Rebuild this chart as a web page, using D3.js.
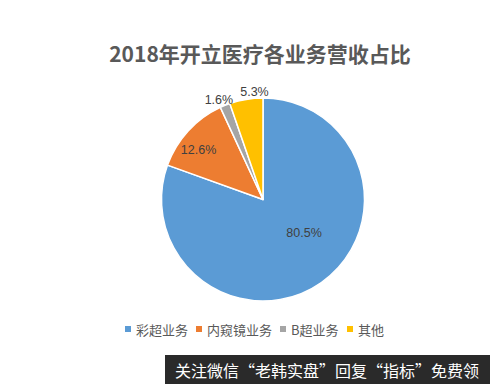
<!DOCTYPE html>
<html>
<head>
<meta charset="utf-8">
<script src="https://cdn.jsdelivr.net/npm/d3@7/dist/d3.min.js"></script>
<style>
  html, body { margin: 0; padding: 0; background: #fff; }
  svg { display: block; }
</style>
</head>
<body>
<script>
// Revenue share by business line, 2018
const categories = ["彩超业务", "内窥镜业务", "B超业务", "其他"];
const shares = [80.5, 12.6, 1.6, 5.3];
const colors = ["#5B9BD5", "#ED7D31", "#A5A5A5", "#FFC000"];
const title = "2018年开立医疗各业务营收占比";
const footer = "关注微信“老韩实盘”回复“指标”免费领";

// label placement: radius as a fraction of the pie radius, angle nudge in degrees
const labelRadius = [0.52, 0.80, 1.07, 1.06];
const labelNudge = [-16, -5, -2, 5];

const W = 490, H = 384;
const cx = 263, cy = 199.5, R = 101.5;

const svg = d3.select("body").append("svg")
  .attr("width", W).attr("height", H);

svg.append("rect").attr("width", W).attr("height", H).attr("fill", "#fff");

// title
svg.append("text")
  .attr("x", 260).attr("y", 62)
  .attr("text-anchor", "middle")
  .attr("font-family", "'Noto Sans CJK SC', sans-serif")
  .attr("font-weight", "bold")
  .attr("font-size", 21)
  .attr("fill", "#595959")
  .text(title);

const pie = d3.pie().sort(null).value(d => d);
const arcs = pie(shares);
const arc = d3.arc().innerRadius(0).outerRadius(R);

const g = svg.append("g").attr("transform", `translate(${cx},${cy})`);

g.selectAll("path.slice")
  .data(arcs)
  .join("path")
  .attr("class", "slice")
  .attr("d", arc)
  .attr("fill", (d, i) => colors[i])
  .attr("stroke", "#fff")
  .attr("stroke-width", 1.5)
  .attr("stroke-linejoin", "round");

// value labels
g.selectAll("text.val")
  .data(arcs)
  .join("text")
  .attr("class", "val")
  .attr("transform", (d, i) => {
    const a = (d.startAngle + d.endAngle) / 2 + labelNudge[i] * Math.PI / 180;
    const r = R * labelRadius[i];
    return `translate(${r * Math.sin(a)},${-r * Math.cos(a)})`;
  })
  .attr("text-anchor", "middle")
  .attr("dominant-baseline", "central")
  .attr("font-family", "'Liberation Sans', Arial, sans-serif")
  .attr("font-size", 12.5)
  .attr("fill", "#404040")
  .text(d => d.value.toFixed(1) + "%");

// legend
const legendX = [125, 196, 280, 347];
const legend = svg.append("g");
categories.forEach((c, i) => {
  legend.append("rect")
    .attr("x", legendX[i]).attr("y", 326)
    .attr("width", 6).attr("height", 6)
    .attr("fill", colors[i]);
  legend.append("text")
    .attr("x", legendX[i] + 11).attr("y", 329)
    .attr("dominant-baseline", "central")
    .attr("font-family", "'Noto Sans CJK SC', sans-serif")
    .attr("font-size", 13)
    .attr("fill", "#595959")
    .text(c);
});

// footer banner
svg.append("rect")
  .attr("x", 165).attr("y", 355)
  .attr("width", W - 165).attr("height", H - 355)
  .attr("fill", "#2a2a2a");
svg.append("text")
  .attr("x", 175).attr("y", 370)
  .attr("dominant-baseline", "central")
  .attr("font-family", "'Noto Sans CJK SC', sans-serif")
  .attr("font-size", 16)
  .attr("fill", "#fff")
  .text(footer);
</script>
</body>
</html>
